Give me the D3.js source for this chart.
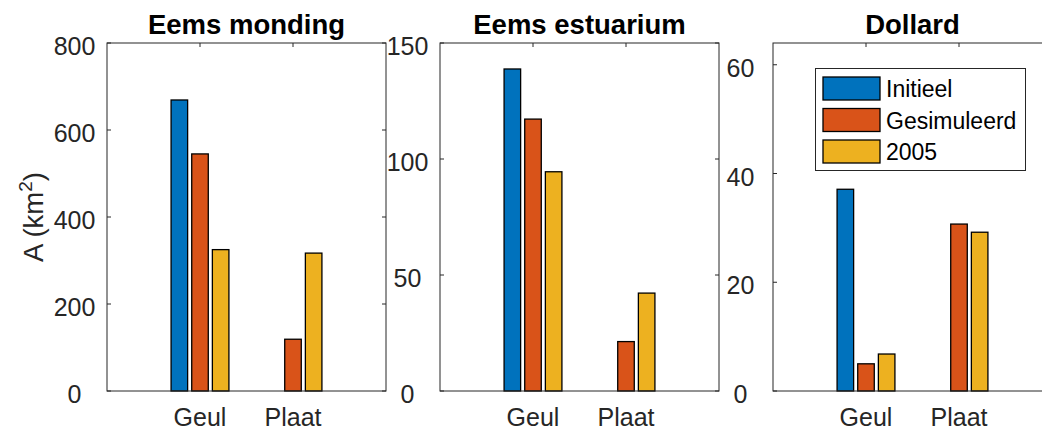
<!DOCTYPE html>
<html>
<head>
<meta charset="utf-8">
<script src="https://cdn.jsdelivr.net/npm/d3@7"></script>
<style>
  html, body { margin: 0; padding: 0; background: #fff; }
  svg { display: block; font-family: "Liberation Sans", Arial, Helvetica, sans-serif; }
</style>
</head>
<body>
<svg id="chart" width="1042" height="430"></svg>
<script>
// ---- data ----
const categories = ["Geul", "Plaat"];
const seriesNames = ["Initieel", "Gesimuleerd", "2005"];
const seriesColors = ["#0072BD", "#D95319", "#EDB120"];

const panelTitles = ["Eems monding", "Eems estuarium", "Dollard"];

// values per series: [Geul, Plaat]
const mondingInitieel = [669, 0];
const mondingGesimuleerd = [545, 119];
const monding2005 = [325, 317];

const estuariumInitieel = [138.8, 0];
const estuariumGesimuleerd = [117.2, 21.3];
const estuarium2005 = [94.5, 42.2];

const dollardInitieel = [37.1, 0];
const dollardGesimuleerd = [5.0, 30.7];
const dollard2005 = [6.8, 29.2];

const mondingTicks = [0, 200, 400, 600, 800];
const estuariumTicks = [0, 50, 100, 150];
const dollardTicks = [0, 20, 40, 60];

const yMax = [800, 150, 64];

const panelData = [
  { title: panelTitles[0], series: [mondingInitieel, mondingGesimuleerd, monding2005], ticks: mondingTicks, ymax: yMax[0] },
  { title: panelTitles[1], series: [estuariumInitieel, estuariumGesimuleerd, estuarium2005], ticks: estuariumTicks, ymax: yMax[1] },
  { title: panelTitles[2], series: [dollardInitieel, dollardGesimuleerd, dollard2005], ticks: dollardTicks, ymax: yMax[2] }
];

// ---- layout ----
const panelLefts = [107, 440, 773];
const panelW = 279, plotTop = 43, plotBottom = 391;
const axisColor = "#262626";
const tickLen = 4;
const barWidth = 0.178;
const groupOffset = 0.222;

const svg = d3.select("#chart");

panelData.forEach((p, pi) => {
  const left = panelLefts[pi];
  const x = d3.scaleLinear().domain([0, categories.length + 1]).range([left, left + panelW]);
  const y = d3.scaleLinear().domain([0, p.ymax]).range([plotBottom, plotTop]);
  const g = svg.append("g");

  // bars
  p.series.forEach((vals, si) => {
    g.selectAll(null).data(vals).enter().append("rect")
      .attr("x", (d, i) => x(i + 1 + (si - 1) * groupOffset - barWidth / 2))
      .attr("width", x(barWidth) - x(0))
      .attr("y", d => y(d))
      .attr("height", d => y(0) - y(d))
      .attr("fill", seriesColors[si])
      .attr("stroke", "#000")
      .attr("stroke-width", 1.3);
  });

  // box
  g.append("rect")
    .attr("x", x(0)).attr("y", plotTop)
    .attr("width", x(categories.length + 1) - x(0)).attr("height", plotBottom - plotTop)
    .attr("fill", "none").attr("stroke", axisColor).attr("stroke-width", 1);

  // y ticks (inward, both sides)
  p.ticks.forEach(t => {
    g.append("line").attr("x1", x(0)).attr("x2", x(0) + tickLen)
      .attr("y1", y(t)).attr("y2", y(t)).attr("stroke", axisColor);
    g.append("line").attr("x1", x(categories.length + 1)).attr("x2", x(categories.length + 1) - tickLen)
      .attr("y1", y(t)).attr("y2", y(t)).attr("stroke", axisColor);
    g.append("text").attr("x", x(0) - 32.5).attr("y", y(t) + 12)
      .attr("text-anchor", "middle").attr("font-size", 25).attr("fill", axisColor)
      .text(t);
  });

  // x ticks (inward, top) + labels
  categories.forEach((c, i) => {
    g.append("line").attr("x1", x(i + 1)).attr("x2", x(i + 1))
      .attr("y1", plotTop).attr("y2", plotTop + tickLen).attr("stroke", axisColor);
    g.append("text").attr("x", x(i + 1)).attr("y", 426)
      .attr("text-anchor", "middle").attr("font-size", 25).attr("fill", axisColor)
      .text(c);
  });

  // title
  g.append("text").attr("x", (x(0) + x(categories.length + 1)) / 2).attr("y", 34)
    .attr("text-anchor", "middle").attr("font-size", 27.5).attr("font-weight", "bold")
    .attr("fill", "#000").text(p.title);
});

// y label
const yl = svg.append("text")
  .attr("transform", "translate(43,217) rotate(-90)")
  .attr("text-anchor", "middle").attr("font-size", 27.5).attr("fill", axisColor);
yl.append("tspan").text("A (km");
yl.append("tspan").attr("dy", -11).attr("font-size", 19).text("2");
yl.append("tspan").attr("dy", 11).text(")");

// legend
const lg = svg.append("g");
lg.append("rect").attr("x", 815.5).attr("y", 68.5).attr("width", 210).attr("height", 102)
  .attr("fill", "#fff").attr("stroke", axisColor).attr("stroke-width", 1);
seriesNames.forEach((n, i) => {
  const cy = 88.5 + i * 31.5;
  lg.append("rect").attr("x", 823).attr("y", cy - 11.5).attr("width", 57).attr("height", 23)
    .attr("fill", seriesColors[i]).attr("stroke", "#000").attr("stroke-width", 1.3);
  lg.append("text").attr("x", 886).attr("y", cy + 8.5).attr("font-size", 23).attr("fill", "#000")
    .text(n);
});
</script>
</body>
</html>
